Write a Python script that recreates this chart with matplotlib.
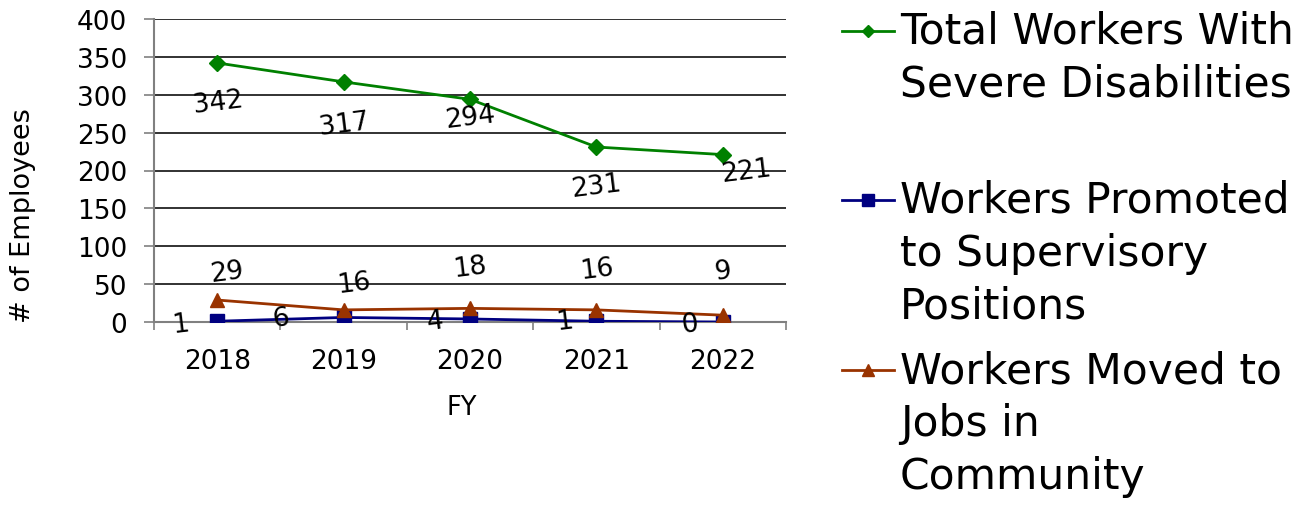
import matplotlib
matplotlib.use("Agg")
import matplotlib.pyplot as plt
from matplotlib.lines import Line2D

years = ["2018", "2019", "2020", "2021", "2022"]
total_severe = [342, 317, 294, 231, 221]
promoted = [1, 6, 4, 1, 0]
moved_community = [29, 16, 18, 16, 9]

series_names = [
    "Total Workers With\nSevere Disabilities",
    "Workers Promoted\nto Supervisory\nPositions",
    "Workers Moved to\nJobs in\nCommunity",
]

# label offsets in pixels (dx, dy upward positive)
off_total = [(1, -39), (0, -42), (0, -18), (0, -39), (23, -16)]
off_moved = [(10, 28), (10, 27), (0, 41), (0, 41), (0, 44)]
off_prom = [(-37, -3), (-63, -1), (-35, -2), (-32, 0), (-33, -2)]

plt.rcParams['font.family'] = ['DejaVu Sans']

W, H = 1312, 506
fig = plt.figure(figsize=(W / 100, H / 100), dpi=100)
ax = fig.add_axes([154 / W, 1 - 323 / H, (786 - 154) / W, (323 - 20) / H])

x = list(range(len(years)))
green = '#008000'
navy = '#000080'
brown = '#993300'

ax.plot(x, total_severe, color=green, lw=2, marker='D', ms=8, zorder=4)
ax.plot(x, promoted, color=navy, lw=2, marker='s', ms=10, zorder=4)
ax.plot(x, moved_community, color=brown, lw=2, marker='^', ms=10, zorder=5)

lab_kw = dict(textcoords='offset pixels', ha='center', va='center',
              fontsize=19, rotation=7, color='black', zorder=6)
for xi, v, o in zip(x, total_severe, off_total):
    ax.annotate(str(v), (xi, v), xytext=o, **lab_kw)
for xi, v, o in zip(x, moved_community, off_moved):
    ax.annotate(str(v), (xi, v), xytext=o, **lab_kw)
for xi, v, o in zip(x, promoted, off_prom):
    ax.annotate(str(v), (xi, v), xytext=o, **lab_kw)

ax.set_xlim(-0.5, len(years) - 0.5)
ax.set_ylim(0, 400)
ax.set_yticks(range(0, 401, 50))
ax.set_xticks(x)
ax.set_xticklabels(years)
ax.set_xticks([i + 0.5 for i in range(-1, len(years))], minor=True)
ax.tick_params(axis='x', which='major', length=0, labelsize=19, pad=19)
ax.tick_params(axis='x', which='minor', length=6, width=1.2, color='#808080', direction='out')
ax.tick_params(axis='y', length=7.2, width=1.2, color='#808080', labelsize=19, pad=12)
ax.yaxis.grid(True, color='#222222', lw=1.3)
ax.set_axisbelow(True)
for s in ['top', 'right']:
    ax.spines[s].set_visible(False)
for s in ['left', 'bottom']:
    ax.spines[s].set_color('#808080')
    ax.spines[s].set_linewidth(1.5)

ax.set_xlabel("FY", fontsize=18.5)
ax.xaxis.set_label_coords((462 - 154) / 632, (323 - 408) / 303)
ax.xaxis.label.set_va('center')
ax.set_ylabel("# of Employees", fontsize=19.5)
ax.yaxis.set_label_coords((23 - 154) / 632, (323 - 216) / 303)
ax.yaxis.label.set_va('center')

# legend (manual)
handles = [(green, 'D', 6), (navy, 's', 8), (brown, '^', 9)]
ys = [32, 201, 371]
for (c, m, ms), yy, name in zip(handles, ys, series_names):
    fy = 1 - yy / H
    fig.add_artist(Line2D([842 / W, 894 / W], [fy, fy], color=c, lw=2))
    fig.add_artist(Line2D([868 / W], [fy], color=c, marker=m, ms=ms, lw=0))
    fig.text(900 / W, 1 - (yy - 21) / H, name, fontsize=30.5, va='top', ha='left',
             linespacing=1.33)

fig.savefig("out.png", dpi=100)
